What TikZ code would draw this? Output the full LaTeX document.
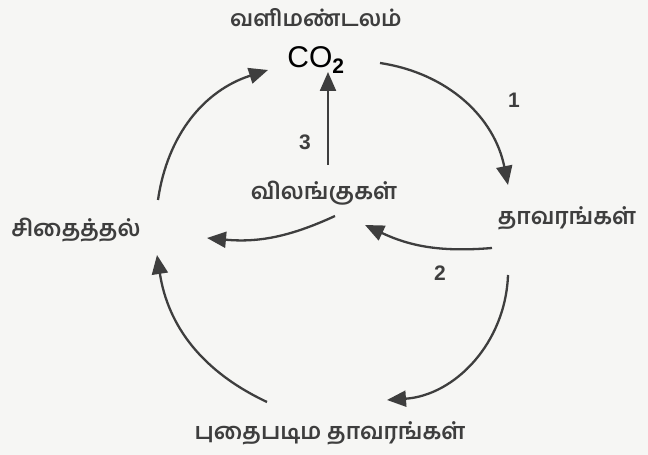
\documentclass[tikz,border=0pt]{standalone}
\usepackage{fontspec}
\setmainfont{Liberation Sans}
\newfontfamily\tamil[Script=Tamil]{Hind Madurai}
\usetikzlibrary{arrows.meta}
\definecolor{ink}{RGB}{62,62,62}
\definecolor{paper}{RGB}{246,246,244}

\begin{document}
\begin{tikzpicture}[x=1pt, y=1pt,
  word/.style={font=\tamil\bfseries\fontsize{23}{23}\selectfont, text=ink, inner sep=0pt},
  num/.style={font=\fontsize{21}{21}\selectfont\bfseries, text=ink, inner sep=0pt},
  flow/.style={draw=ink, line width=2.3pt, -{Triangle[length=19pt,width=16pt]}}]
% background
\fill[paper] (0,0) rectangle (648,455);
\useasboundingbox (0,0) rectangle (648,455);
% labels
\node[word, font=\tamil\bfseries\fontsize{22.5}{22.5}\selectfont] (atm) at (316,437) {வளிமண்டலம்};
\node[font=\fontsize{30}{30}\selectfont, inner sep=0pt] (co2) at (316,395) {CO\textsubscript{\bfseries 2}};
\node[word] (plants) at (567,237) {தாவரங்கள்};
\node[word] (animals) at (324,262) {விலங்குகள்};
\node[word] (decomp) at (76,225) {சிதைத்தல்};
\node[word] (fossil) at (330,22) {புதைபடிம தாவரங்கள்};
\node[num] (n1) at (514,355) {1};
\node[num] (n2) at (440,182) {2};
\node[num] (n3) at (305,313) {3};
% outer cycle
\draw[flow] ([shift={(64,-3)}]co2.center) to[bend left=35] ([shift={(-59,33)}]plants.center);
\draw[flow] ([shift={(-59,-57)}]plants.center) to[bend left=42] ([shift={(57,33)}]fossil.center);
\draw[flow] ([shift={(-63,31)}]fossil.center) to[bend left=28] ([shift={(81,-25)}]decomp.center);
\draw[flow] ([shift={(82,30)}]decomp.center) to[bend left=32] ([shift={(-48,-10)}]co2.center);
% inner paths
\draw[flow] ([shift={(4,28)}]animals.center) -- ([shift={(12,-12)}]co2.center);
\draw[flow] ([shift={(-75,-30)}]plants.center) to[bend left=15] ([shift={(41,-32)}]animals.center);
\draw[flow] ([shift={(11,-23)}]animals.center) to[bend left=15] ([shift={(131,-8)}]decomp.center);
\end{tikzpicture}
\end{document}
